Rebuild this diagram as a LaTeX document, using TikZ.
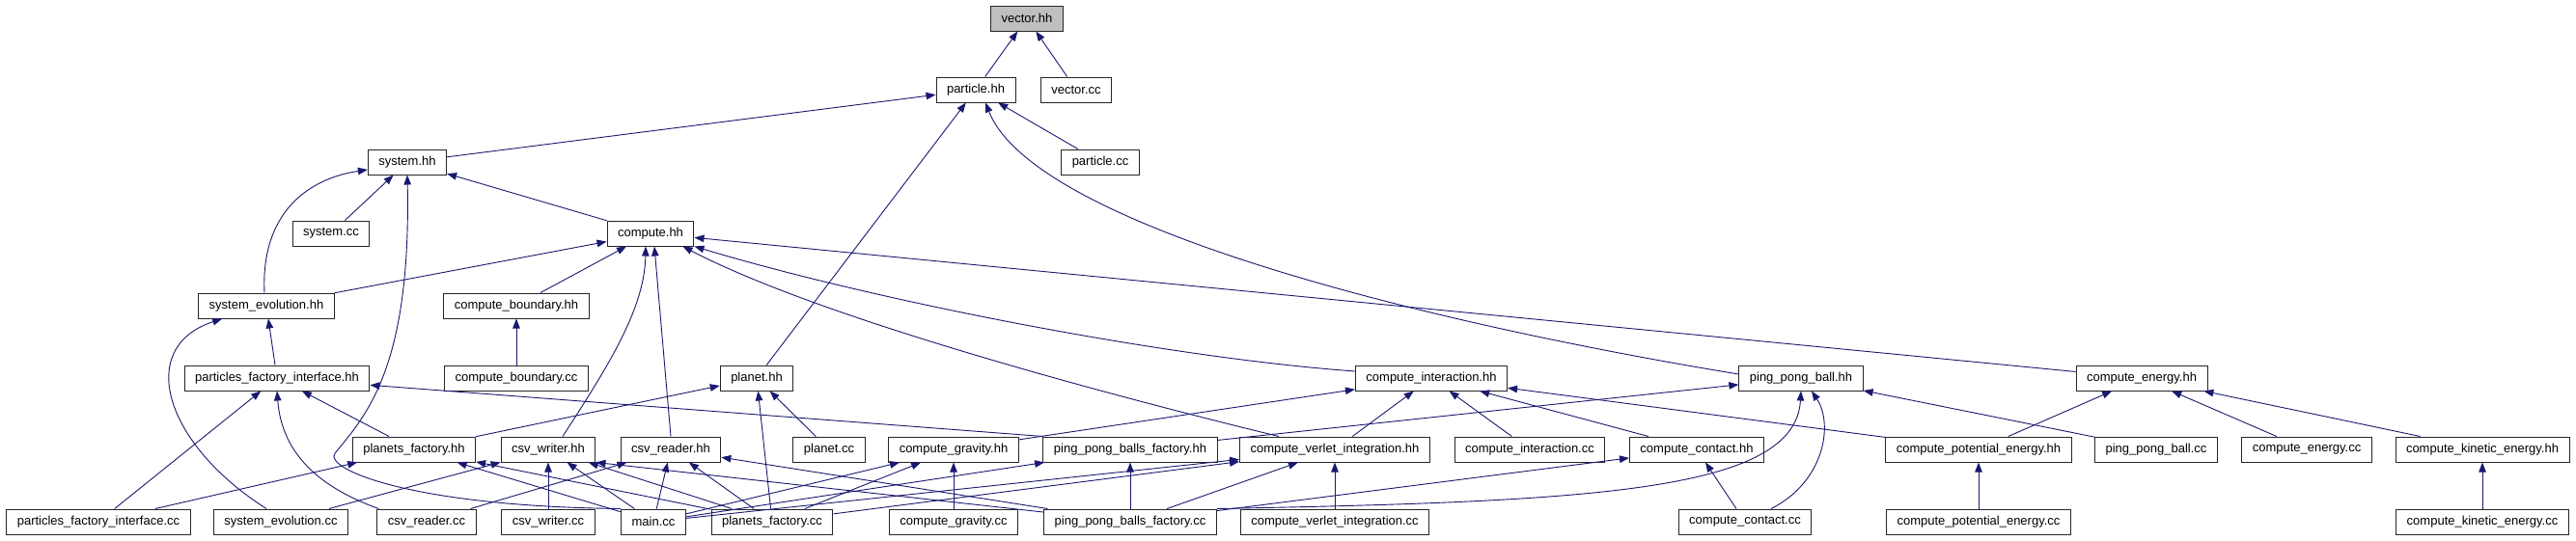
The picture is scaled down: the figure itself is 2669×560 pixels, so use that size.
\documentclass[tikz,border=0pt]{standalone}
\usepackage{fontspec}
\setmainfont{Liberation Sans}
\usepackage{tikz}
\usetikzlibrary{arrows.meta}
\definecolor{midnightblue}{RGB}{25,25,112}
\definecolor{focusgray}{RGB}{191,191,191}

\begin{document}
\begin{tikzpicture}[x=1pt, y=-1pt,
  every node/.style={rectangle, draw=black!85, fill=white, line width=1pt,
    inner xsep=11pt, inner ysep=0pt, minimum height=26pt,
    font=\fontsize{13}{15}\selectfont},
  inc/.style={draw=midnightblue, line width=0.9pt,
    -{Triangle[length=10pt, width=7.5pt]}}
]

\path[use as bounding box, fill=white] (0,0) rectangle (2669,560);

% -------- Fila 0 y 1 --------
\node[fill=focusgray] (vech) at (1064,19) {vector.hh};
\node (parth) at (1011,93) {particle.hh};
\node (vecc) at (1115,93) {vector.cc};

% -------- Fila 2 y 3 --------
\node (sysh) at (422,168) {system.hh};
\node (partc) at (1140,168) {particle.cc};
\node (sysc) at (343,242) {system.cc};
\node (comph) at (674,242) {compute.hh};

% -------- Fila 4 --------
\node (sevh) at (276,317) {system\_evolution.hh};
\node (cbh) at (535,317) {compute\_boundary.hh};

% -------- Fila 5 --------
\node (pfih) at (287,392) {particles\_factory\_interface.hh};
\node (cbc) at (535,392) {compute\_boundary.cc};
\node (planh) at (784,392) {planet.hh};
\node (cih) at (1483,392) {compute\_interaction.hh};
\node (ppbh) at (1866,392) {ping\_pong\_ball.hh};
\node (ceh) at (2219,392) {compute\_energy.hh};

% -------- Fila 6 --------
\node (pfh) at (429,466) {planets\_factory.hh};
\node (cswh) at (568,466) {csv\_writer.hh};
\node (csrh) at (695,466) {csv\_reader.hh};
\node (planc) at (859,466) {planet.cc};
\node (cgh) at (988,466) {compute\_gravity.hh};
\node (ppbfh) at (1171,466) {ping\_pong\_balls\_factory.hh};
\node (cvih) at (1383,466) {compute\_verlet\_integration.hh};
\node (cic) at (1585,466) {compute\_interaction.cc};
\node (cch) at (1758,466) {compute\_contact.hh};
\node (cpeh) at (2050,466) {compute\_potential\_energy.hh};
\node (ppbc) at (2234,466) {ping\_pong\_ball.cc};
\node (cec) at (2390,466) {compute\_energy.cc};
\node (ckeh) at (2572,466) {compute\_kinetic\_energy.hh};

% -------- Fila 7 --------
\node (pfic) at (102,541) {particles\_factory\_interface.cc};
\node (sevc) at (291,541) {system\_evolution.cc};
\node (csrc) at (442,541) {csv\_reader.cc};
\node (cswc) at (568,541) {csv\_writer.cc};
\node (mainc) at (677,541) {main.cc};
\node (pfc) at (800,541) {planets\_factory.cc};
\node (cgc) at (988,541) {compute\_gravity.cc};
\node (ppbfc) at (1171,541) {ping\_pong\_balls\_factory.cc};
\node (cvic) at (1383,541) {compute\_verlet\_integration.cc};
\node (ccc) at (1808,541) {compute\_contact.cc};
\node (cpec) at (2050,541) {compute\_potential\_energy.cc};
\node (ckec) at (2572,541) {compute\_kinetic\_energy.cc};

% Aristas hacia vector.hh y particle.hh
\draw[inc] (parth) -- (vech);
\draw[inc] (vecc) -- (vech);
\draw[inc] (sysh) -- (parth);
\draw[inc] (planh) -- (parth);
\draw[inc] ([yshift=4pt]ppbh.west) .. controls (1450,330) and (1070,230) .. ([xshift=10pt]parth.south);
\draw[inc] (partc) -- (parth);

% Aristas hacia system.hh
\draw[inc] ([xshift=-2pt]sevh.north) .. controls (270,220) and (320,185) .. ([yshift=-8pt]sysh.west);
\draw[inc] (sysc) -- (sysh);
\draw[inc] (mainc.north west) .. controls (420,525) and (335,485) .. (347,470) .. controls (380,430) and (426,380) .. (sysh.south);
\draw[inc] (comph) -- (sysh);

% Aristas hacia compute.hh
\draw[inc] (sevh) -- (comph);
\draw[inc] (cbh) -- (comph);
\draw[inc] ([xshift=15pt]cswh.north) .. controls (630,380) and (668,320) .. ([xshift=-5pt]comph.south);
\draw[inc] (csrh.north) -- ([xshift=4pt]comph.south);
\draw[inc] ([xshift=-58pt]cvih.north) .. controls (1150,410) and (850,330) .. ([xshift=-12pt]comph.south east);
\draw[inc] ([yshift=7pt]cih.west) .. controls (1200,370) and (900,310) .. (comph.south east);
\draw[inc] (ceh) -- (comph);

% Aristas hacia system_evolution.hh y compute_boundary.hh
\draw[inc] (pfih) -- (sevh);
\draw[inc] ([xshift=-15pt]sevc.north) .. controls (170,460) and (140,360) .. ([xshift=25pt]sevh.south west);
\draw[inc] (cbc) -- (cbh);

% Aristas hacia particles_factory_interface.hh
\draw[inc] (pfic) -- (pfih);
\draw[inc] ([xshift=2pt]csrc.north west) .. controls (330,505) and (292,470) .. (pfih.south);
\draw[inc] (pfh) -- (pfih);
\draw[inc] (ppbfh.north west) -- (pfih);

% Aristas hacia planet.hh y planets_factory.hh
\draw[inc] (pfh) -- (planh);
\draw[inc] (pfc) -- (planh);
\draw[inc] (planc) -- (planh);
\draw[inc] (pfic) -- (pfh);
\draw[inc] (mainc) -- (pfh);
\draw[inc] (pfc) -- (pfh);

% Aristas hacia csv_writer.hh y csv_reader.hh
\draw[inc] (sevc) -- (cswh);
\draw[inc] (cswc) -- (cswh);
\draw[inc] (mainc) -- (cswh);
\draw[inc] (pfc) -- (cswh);
\draw[inc] (ppbfc) -- (cswh.south east);
\draw[inc] (csrc) -- (csrh);
\draw[inc] (mainc) -- (csrh);
\draw[inc] (pfc) -- (csrh);
\draw[inc] (ppbfc) -- (csrh);

% Aristas hacia compute_interaction.hh
\draw[inc] (cgh) -- (cih);
\draw[inc] (cvih) -- (cih);
\draw[inc] (cic) -- (cih);
\draw[inc] (cch) -- (cih);
\draw[inc] (cpeh) -- (cih);

% Aristas hacia compute_gravity.hh, ping_pong_balls_factory.hh, compute_verlet_integration.hh
\draw[inc] (mainc) -- (cgh);
\draw[inc] (pfc) -- (cgh);
\draw[inc] (cgc) -- (cgh);
\draw[inc] (mainc) -- (ppbfh);
\draw[inc] (ppbfc) -- (ppbfh);
\draw[inc] (mainc) -- (cvih);
\draw[inc] (pfc) -- (cvih);
\draw[inc] (ppbfc) -- (cvih);
\draw[inc] (cvic) -- (cvih);

% Aristas hacia compute_contact.hh y ping_pong_ball.hh
\draw[inc] (ppbfc) -- (cch);
\draw[inc] (ccc) -- (cch);
\draw[inc] (ppbfh) -- (ppbh);
\draw[inc] (ppbfc.north east) .. controls (1650,520) and (1860,510) .. (ppbh.south);
\draw[inc] ([xshift=27pt]ccc.north) .. controls (1890,500) and (1900,440) .. ([xshift=11pt]ppbh.south);
\draw[inc] (ppbc) -- (ppbh);

% Aristas hacia compute_energy.hh
\draw[inc] (cpeh) -- (ceh);
\draw[inc] (cec) -- (ceh);
\draw[inc] (ckeh) -- (ceh);
\draw[inc] (cpec) -- (cpeh);
\draw[inc] (ckec) -- (ckeh);

\end{tikzpicture}
\end{document}
